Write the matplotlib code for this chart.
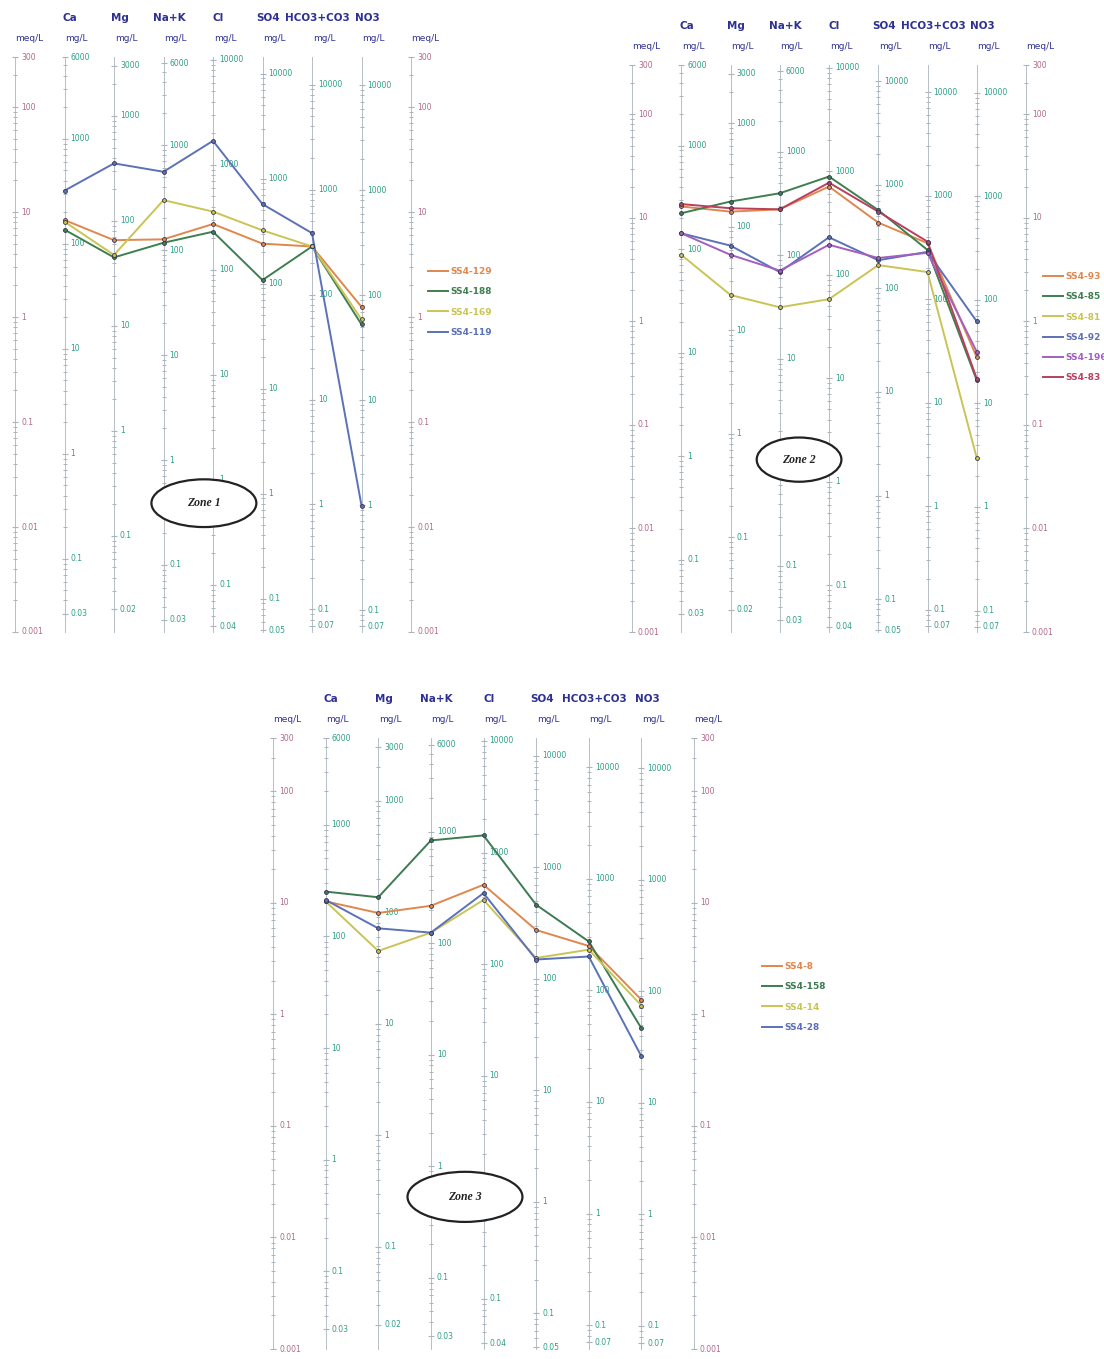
import numpy as np
import matplotlib.pyplot as plt
from matplotlib.patches import Ellipse

plt.rcParams['font.family'] = ['DejaVu Sans']

# ions and the equivalent weights used to turn mg/L into meq/L
ions = ['Ca', 'Mg', 'Na+K', 'Cl', 'SO4', 'HCO3+CO3', 'NO3']
eq_weight = [20.04, 12.15, 23.0, 35.45, 48.03, 61.02, 62.0]

meq_labels = [300, 100, 10, 1, 0.1, 0.01, 0.001]
mg_labels = [
    [6000, 1000, 100, 10, 1, 0.1, 0.03],
    [3000, 1000, 100, 10, 1, 0.1, 0.02],
    [6000, 1000, 100, 10, 1, 0.1, 0.03],
    [10000, 1000, 100, 10, 1, 0.1, 0.04],
    [10000, 1000, 100, 10, 1, 0.1, 0.05],
    [10000, 1000, 100, 10, 1, 0.1, 0.07],
    [10000, 1000, 100, 10, 1, 0.1, 0.07],
]

# concentrations in meq/L, one row per sample, ions in the order above
zone1_samples = ['SS4-129', 'SS4-188', 'SS4-169', 'SS4-119']
zone1_values = [
    [8.4, 5.4, 5.5, 7.7, 5.0, 4.7, 1.25],
    [6.8, 3.7, 5.1, 6.5, 2.25, 4.7, 0.85],
    [8.1, 3.9, 13.0, 10.1, 6.7, 4.7, 0.95],
    [16.0, 29.1, 24.2, 47.7, 11.9, 6.3, 0.016],
]
zone1_colors = ['#e0874e', '#3f7f4f', '#c9c455', '#5b71b8']

zone2_samples = ['SS4-93', 'SS4-85', 'SS4-81', 'SS4-92', 'SS4-196', 'SS4-83']
zone2_values = [
    [12.9, 11.5, 12.1, 20.1, 9.0, 5.7, 0.45],
    [11.1, 14.4, 17.3, 25.1, 11.9, 4.9, 0.27],
    [4.4, 1.8, 1.37, 1.64, 3.5, 3.0, 0.048],
    [7.1, 5.4, 3.0, 6.5, 3.9, 4.7, 1.0],
    [7.1, 4.4, 3.1, 5.5, 4.1, 4.6, 0.51],
    [13.6, 12.4, 12.1, 21.9, 11.5, 5.9, 0.28],
]
zone2_colors = ['#e0874e', '#3f7f4f', '#c9c455', '#5b71b8', '#a35fc0', '#b8405e']

zone3_samples = ['SS4-8', 'SS4-158', 'SS4-14', 'SS4-28']
zone3_values = [
    [10.3, 8.1, 9.4, 14.5, 5.7, 4.1, 1.35],
    [12.6, 11.2, 36.2, 40.2, 9.6, 4.5, 0.75],
    [10.3, 3.7, 5.4, 10.6, 3.2, 3.8, 1.2],
    [10.6, 5.9, 5.4, 12.2, 3.1, 3.3, 0.42],
]
zone3_colors = ['#e0874e', '#3d7b52', '#c9c455', '#5b71b8']

W, H = 1104, 1359
NAVY = '#2e3192'
MEQ_COLOR = '#b0688a'
MG_COLOR = '#2f9e88'
AXIS_COLOR = '#a9b4bc'
YMIN, YMAX = 0.001, 300

fig = plt.figure(figsize=(W / 100, H / 100), dpi=100)


def fmt(v):
    return ('%g' % v)


def log_ticks(lo_exp, hi_exp):
    return np.array([k * 10.0 ** e for e in range(lo_exp, hi_exp + 1) for k in range(1, 10)])


def draw_axis(ax, x, ticks, labels, label_color, ppx):
    ax.plot([x, x], [YMIN, YMAX], color=AXIS_COLOR, lw=0.6, zorder=1, clip_on=False)
    ticks = ticks[(ticks >= YMIN * 0.999) & (ticks <= YMAX * 1.001)]
    ax.plot(np.full(len(ticks), x), ticks, ls='none', marker='_', ms=3.5,
            mew=0.7, color=AXIS_COLOR, zorder=1, clip_on=False)
    for val, txt in labels:
        ax.plot([x], [val], marker='_', ms=5, mew=0.8, color=AXIS_COLOR,
                zorder=1, clip_on=False)
        ax.text(x + 6 / ppx, val, txt, color=label_color, fontsize=5.5,
                ha='left', va='center', zorder=2)


def draw_panel(box, samples, values, colors, zone, ell, legend_xy):
    x0, x8, ytop, ybot = box
    ax = fig.add_axes([x0 / W, 1 - ybot / H, (x8 - x0) / W, (ybot - ytop) / H])
    ax.set_xlim(0, 8)
    ax.set_yscale('log')
    ax.set_ylim(YMIN, YMAX)
    ax.axis('off')
    ppx = (x8 - x0) / 8

    # meq/L scales on both sides
    meq_minor = log_ticks(-3, 2)
    for x in (0, 8):
        draw_axis(ax, x, meq_minor, [(v, fmt(v)) for v in meq_labels], MEQ_COLOR, ppx)
        ax.annotate('meq/L', xy=(x, 1), xycoords=('data', 'axes fraction'),
                    xytext=(0, 13.5), textcoords='offset points', ha='left',
                    va='center', fontsize=6.5, color=NAVY)

    # one mg/L scale per ion
    for i, (ion, eq) in enumerate(zip(ions, eq_weight), start=1):
        mg_minor = log_ticks(-2, 4) / eq
        labs = [(m / eq, fmt(m)) for m in mg_labels[i - 1]]
        draw_axis(ax, i, mg_minor, labs, MG_COLOR, ppx)
        ax.annotate(ion, xy=(i, 1), xycoords=('data', 'axes fraction'),
                    xytext=(4, 28), textcoords='offset points', ha='center',
                    va='center', fontsize=7.5, fontweight='bold', color=NAVY)
        ax.annotate('mg/L', xy=(i, 1), xycoords=('data', 'axes fraction'),
                    xytext=(0.5, 13.5), textcoords='offset points', ha='left',
                    va='center', fontsize=6.5, color=NAVY)

    xs = np.arange(1, len(ions) + 1)
    handles = []
    for name, vals, c in zip(samples, values, colors):
        ln, = ax.plot(xs, vals, color=c, lw=1.4, label=name, zorder=3)
        ax.plot(xs, vals, ls='none', marker='o', ms=2.8, mfc=c, mec='#343450',
                mew=0.6, zorder=4)
        handles.append(ln)

    cx, cy, ew, eh = ell
    ax.add_patch(Ellipse((cx, cy), ew, eh, transform=ax.transAxes, fc='white',
                         ec='#222222', lw=1.6, zorder=5))
    ax.text(cx, cy, zone, transform=ax.transAxes, ha='center', va='center',
            fontsize=8.5, fontfamily='Liberation Serif', style='italic',
            fontweight='bold', color='#222222', zorder=6)

    lx, ly = legend_xy
    fig.legend(handles=handles, loc='upper left', bbox_to_anchor=(lx / W, 1 - ly / H),
               frameon=False, labelcolor='linecolor', handlelength=2.2,
               handletextpad=0.3, labelspacing=1.25, borderpad=0, borderaxespad=0,
               prop={'size': 6.5, 'weight': 'bold'})


draw_panel((15, 411, 57, 632), zone1_samples, zone1_values, zone1_colors,
           'Zone 1', (0.477, 0.224, 0.265, 0.083), (428, 267))
draw_panel((632, 1026, 65, 632), zone2_samples, zone2_values, zone2_colors,
           'Zone 2', (0.424, 0.304, 0.215, 0.078), (1043, 272))
draw_panel((273, 694, 738, 1349), zone3_samples, zone3_values, zone3_colors,
           'Zone 3', (0.456, 0.249, 0.273, 0.082), (762, 962))

fig.savefig('out.png', dpi=100)
